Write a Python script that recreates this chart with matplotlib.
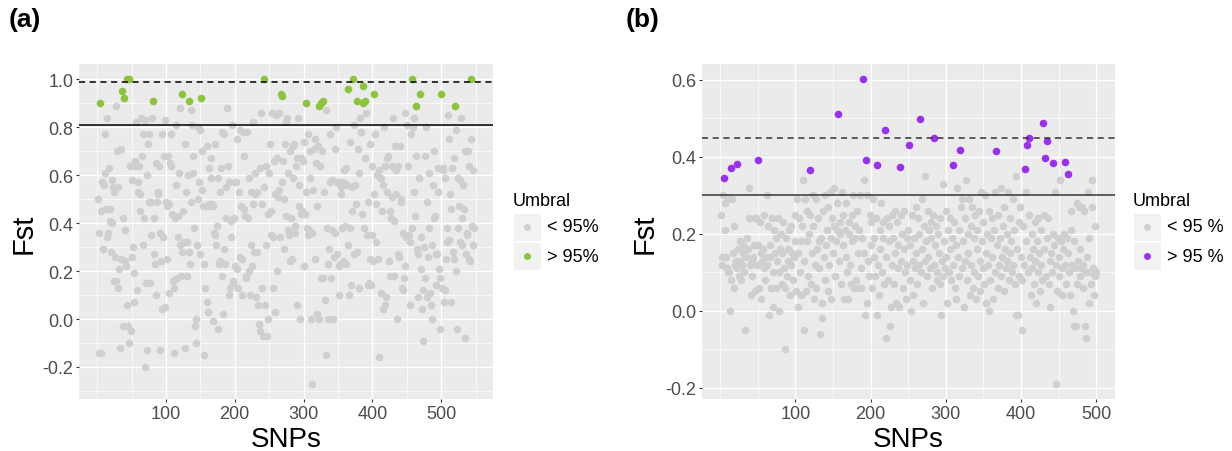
import numpy as np
import matplotlib
matplotlib.use("Agg")
import matplotlib.pyplot as plt
from matplotlib.patches import Rectangle
from matplotlib.lines import Line2D

plt.rcParams['font.family'] = ['Liberation Sans', 'DejaVu Sans']

# Fst per SNP, panel (a): SNP 1..548
fst_a = [
    0.50, 0.36, -0.14, 0.90, -0.14, 0.45, 0.57, 0.29, 0.29, 0.56, 0.61, 0.77, 0.46, 0.84, 0.34, 0.36, 0.63, 0.41, 0.46, 0.28,
    0.58, 0.40, 0.55, 0.16, 0.53, 0.26, 0.89, 0.16, 0.70, 0.13, 0.55, 0.21, -0.12, 0.25, 0.71, 0.95, -0.03, 0.42, 0.92, 0.37,
    0.24, 0.22, 1.00, 0.06, -0.03, -0.10, 1.00, 0.64, -0.05, 0.26, 0.58, 0.30, 0.07, 0.19, 0.66, 0.64, 0.82, 0.12, 0.53, 0.57,
    0.64, 0.45, 0.52, 0.84, 0.68, 0.31, 0.77, 0.42, 0.83, -0.20, 0.15, -0.13, 0.60, 0.73, 0.77, 0.49, 0.15, 0.49, 0.35, 0.84,
    0.91, 0.42, 0.27, 0.23, 0.10, 0.65, 0.49, 0.53, 0.52, 0.64, 0.36, -0.13, 0.24, 0.04, 0.77, 0.34, 0.68, 0.83, 0.05, 0.49,
    0.25, 0.47, 0.68, 0.11, 0.48, 0.65, 0.77, 0.64, 0.44, 0.16, 0.13, -0.14, 0.42, 0.81, 0.56, 0.17, 0.34, 0.43, 0.61, 0.31,
    0.88, 0.18, 0.28, 0.94, 0.45, 0.32, -0.12, 0.73, 0.53, 0.18, 0.32, 0.60, 0.28, 0.91, 0.23, 0.87, 0.49, 0.81, 0.61, 0.68,
    0.38, -0.03, 0.00, -0.10, 0.31, 0.80, 0.50, 0.57, 0.27, 0.79, 0.92, 0.54, 0.70, 0.47, -0.15, 0.23, 0.13, 0.47, 0.72, 0.07,
    0.03, 0.63, 0.48, 0.47, 0.67, 0.59, 0.48, -0.01, 0.47, 0.36, 0.73, 0.35, 0.31, 0.39, -0.04, 0.59, 0.23, 0.53, 0.24, 0.63,
    0.78, 0.18, 0.02, 0.77, 0.29, 0.23, 0.42, 0.55, 0.88, 0.64, 0.57, 0.10, 0.13, 0.41, 0.34, 0.81, 0.16, 0.15, 0.42, 0.57,
    0.22, 0.57, 0.75, 0.21, 0.13, 0.53, 0.26, 0.79, 0.47, 0.25, 0.10, 0.78, 0.46, 0.68, 0.43, 0.17, 0.18, 0.78, 0.42, 0.59,
    0.20, 0.10, 0.31, 0.53, 0.22, 0.82, 0.48, 0.28, 0.61, 0.52, 0.09, 0.28, 0.53, 0.06, -0.02, -0.05, 0.63, 0.86, 0.48, 0.13,
    -0.07, 1.00, 0.55, 0.06, 0.31, 0.64, -0.07, 0.44, 0.00, 0.61, 0.73, 0.45, 0.35, 0.86, 0.34, 0.13, 0.66, 0.52, 0.03, 0.85,
    0.67, 0.20, 0.51, 0.86, 0.54, 0.34, 0.94, 0.57, 0.93, 0.66, 0.29, 0.50, 0.73, 0.82, 0.43, 0.84, 0.37, 0.61, 0.35, 0.70,
    0.24, 0.42, 0.25, 0.59, 0.72, 0.73, 0.39, 0.36, 0.64, 0.06, 0.67, 0.84, 0.47, 0.56, 0.00, 0.67, 0.44, 0.45, 0.66, 0.22,
    0.74, 0.44, 0.53, 0.90, 0.38, 0.35, 0.77, 0.37, 0.59, 0.70, 0.00, -0.27, 0.36, 0.54, 0.71, 0.25, 0.75, 0.65, 0.02, 0.47,
    0.72, 0.00, 0.89, 0.64, 0.17, 0.90, 0.70, 0.17, 0.91, 0.53, 0.08, -0.15, 0.87, 0.38, 0.23, 0.00, 0.29, 0.77, 0.57, 0.17,
    0.58, 0.37, 0.00, 0.26, 0.71, 0.36, 0.80, 0.57, 0.27, 0.57, 0.22, 0.10, 0.23, 0.52, 0.55, 0.38, 0.57, 0.24, 0.62, 0.39,
    0.23, 0.63, 0.56, 0.96, 0.31, 0.10, 0.38, 0.74, 0.14, 0.45, 0.55, 1.00, 0.27, 0.81, 0.56, 0.48, 0.28, 0.91, 0.71, 0.61,
    0.13, 0.84, 0.78, 0.78, 0.44, 0.90, 0.97, 0.38, 0.91, 0.67, 0.86, 0.35, 0.14, 0.49, 0.15, 0.73, 0.25, 0.14, 0.35, 0.64,
    0.24, 0.52, 0.94, 0.77, 0.48, 0.32, 0.60, 0.25, 0.62, -0.16, 0.59, 0.59, 0.11, 0.45, 0.04, 0.56, 0.80, 0.06, 0.64, 0.09,
    0.67, 0.53, 0.68, 0.24, 0.18, 0.45, 0.42, 0.64, 0.51, 0.84, 0.18, 0.41, 0.72, 0.52, 0.62, 0.00, 0.27, 0.64, 0.26, 0.72,
    0.50, 0.49, 0.13, 0.36, 0.12, 0.17, 0.22, 0.86, 0.34, 0.34, 0.81, 0.64, 0.35, 0.06, 0.32, 0.77, 1.00, 0.38, 0.80, 0.53,
    0.84, 0.43, 0.89, 0.68, 0.29, 0.09, 0.27, 0.59, 0.94, 0.21, 0.34, 0.04, 0.12, -0.09, 0.30, 0.68, 0.17, 0.80, 0.09, 0.49,
    0.26, 0.38, 0.61, 0.11, 0.06, 0.31, 0.00, 0.56, 0.42, 0.70, 0.43, 0.27, 0.14, 0.27, 0.63, 0.53, 0.21, 0.17, -0.04, 0.94,
    0.13, 0.62, 0.63, 0.07, 0.59, 0.12, 0.25, 0.38, 0.32, 0.85, 0.75, 0.33, 0.52, 0.07, 0.46, 0.63, 0.28, 0.67, 0.25, 0.89,
    0.20, 0.79, -0.04, 0.59, 0.38, 0.47, 0.32, 0.58, 0.84, 0.31, 0.42, 0.56, 0.46, -0.08, 0.70, 0.27, 0.35, 0.36, 0.70, 0.64,
    0.25, 0.24, 1.00, 0.75, 0.39, 0.31, 0.62, 0.38,
]
# SNPs above the 95 % threshold in (a)
outliers_a = [4, 36, 39, 43, 47, 81, 124, 134, 151, 242, 267, 269, 304, 323, 326, 329,
              364, 372, 378, 386, 387, 389, 403, 457, 463, 469, 500, 520, 543]

# Fst per SNP, panel (b): SNP 1..500
fst_b = [
    0.25, 0.14, 0.12, 0.30, 0.345, 0.21, 0.28, 0.14, 0.11, 0.29, 0.10, 0.10, 0.00, 0.08, 0.371, 0.29, 0.15, 0.22, 0.06, 0.12,
    0.13, 0.381, 0.11, 0.16, 0.09, 0.13, 0.18, 0.08, 0.12, 0.17, 0.15, 0.10, -0.05, 0.16, 0.14, 0.19, 0.16, 0.32, 0.24, 0.12,
    0.04, 0.13, 0.09, 0.14, 0.17, 0.24, 0.05, 0.24, 0.12, 0.17, 0.391, 0.06, 0.23, 0.15, 0.03, 0.13, 0.16, 0.11, 0.25, 0.08,
    0.14, 0.30, 0.12, 0.22, -0.01, 0.17, 0.14, 0.06, 0.24, 0.10, 0.01, 0.21, 0.15, 0.06, 0.19, 0.13, 0.24, 0.00, 0.10, 0.16,
    0.20, 0.07, 0.15, 0.23, 0.11, 0.06, -0.10, 0.19, 0.09, 0.16, 0.13, 0.21, 0.04, 0.12, 0.22, 0.15, 0.08, 0.14, 0.18, 0.25,
    0.05, 0.29, 0.15, 0.01, 0.24, 0.10, 0.18, 0.04, 0.22, 0.34, -0.05, 0.13, 0.29, 0.05, 0.18, 0.26, 0.09, 0.20, 0.367, 0.25,
    0.07, 0.15, 0.30, 0.22, 0.03, 0.12, 0.29, 0.06, 0.16, 0.24, 0.18, 0.11, -0.06, 0.19, 0.02, -0.02, 0.26, 0.14, 0.08, 0.30,
    0.17, 0.21, 0.05, 0.27, 0.12, 0.31, 0.19, 0.03, 0.24, 0.15, 0.32, 0.22, 0.09, 0.18, 0.28, 0.21, 0.511, 0.13, 0.23, 0.20,
    0.07, 0.31, 0.25, 0.17, 0.03, 0.21, 0.14, 0.28, 0.10, 0.03, 0.20, 0.23, 0.12, 0.07, 0.25, 0.18, 0.30, 0.06, 0.19, 0.22,
    0.08, 0.26, 0.15, 0.06, 0.21, 0.30, 0.11, 0.06, 0.19, 0.602, 0.34, 0.15, -0.01, 0.393, 0.02, 0.30, 0.13, 0.09, 0.25, 0.17,
    0.23, 0.06, 0.29, 0.14, 0.19, 0.09, 0.24, -0.01, 0.378, 0.12, 0.04, 0.21, 0.16, 0.28, 0.10, 0.23, 0.19, 0.07, 0.471, -0.07,
    0.14, 0.24, 0.08, 0.18, 0.22, -0.04, 0.01, 0.12, 0.25, 0.19, 0.07, 0.15, 0.26, 0.02, 0.23, 0.11, 0.17, 0.01, 0.373, 0.25,
    0.13, 0.20, 0.06, 0.16, 0.26, 0.10, 0.03, 0.19, 0.12, 0.21, 0.431, 0.08, 0.17, 0.00, 0.25, 0.13, 0.04, 0.19, 0.11, 0.27,
    0.15, 0.07, 0.24, 0.12, 0.20, 0.498, 0.10, 0.29, 0.16, 0.02, 0.22, 0.13, 0.35, 0.18, 0.09, 0.26, 0.14, 0.21, 0.11, 0.23,
    0.19, 0.06, 0.25, 0.12, 0.448, 0.17, 0.22, 0.10, 0.08, 0.20, 0.15, 0.07, 0.24, -0.01, 0.13, 0.33, 0.09, 0.18, 0.11, 0.26,
    0.14, 0.02, 0.21, 0.10, 0.24, 0.16, 0.08, 0.19, 0.378, 0.12, 0.23, 0.06, 0.17, 0.03, 0.32, 0.14, 0.21, 0.09, 0.417, 0.27,
    0.11, 0.29, 0.18, 0.01, 0.24, 0.13, 0.34, 0.08, 0.20, 0.15, 0.29, 0.04, 0.22, 0.12, 0.27, 0.06, 0.19, 0.10, 0.25, 0.03,
    0.16, 0.21, 0.09, 0.26, 0.13, 0.05, 0.31, 0.18, 0.11, 0.23, 0.07, 0.30, 0.15, 0.02, 0.20, 0.12, 0.00, 0.26, 0.08, 0.19,
    0.14, 0.24, 0.03, 0.21, 0.10, 0.31, 0.416, 0.17, 0.06, 0.25, 0.12, 0.19, 0.09, 0.32, 0.14, 0.22, 0.05, 0.27, 0.16, 0.11,
    0.20, 0.13, 0.31, 0.08, 0.24, 0.15, 0.18, 0.10, 0.29, 0.12, 0.21, 0.07, 0.35, -0.01, 0.16, -0.01, 0.23, 0.09, 0.27, 0.14,
    0.08, -0.05, 0.22, 0.12, 0.368, 0.31, 0.18, 0.431, 0.10, 0.448, 0.25, 0.14, 0.04, 0.20, 0.11, 0.16, 0.07, 0.23, 0.13, 0.02,
    0.18, 0.10, 0.24, 0.15, 0.05, 0.21, 0.12, 0.08, 0.487, 0.16, 0.25, 0.396, 0.09, 0.19, 0.441, 0.24, 0.07, 0.13, 0.01, 0.15,
    0.10, 0.384, 0.20, 0.17, 0.31, 0.12, -0.19, 0.05, 0.19, 0.14, 0.09, 0.34, 0.18, 0.04, 0.11, 0.16, 0.20, 0.388, 0.12, 0.07,
    0.19, 0.15, 0.355, 0.10, 0.04, 0.21, 0.26, 0.12, 0.00, -0.04, 0.18, 0.11, -0.04, 0.28, 0.07, 0.13, 0.27, 0.09, 0.16, 0.11,
    0.27, 0.06, 0.12, 0.26, -0.04, 0.10, -0.07, 0.14, 0.31, 0.02, 0.19, 0.10, 0.07, 0.27, 0.34, 0.11, 0.04, 0.09, 0.22, 0.10,
]
outliers_b = [5, 15, 22, 51, 119, 157, 190, 194, 209, 219, 239, 251, 266, 285, 309, 319,
              367, 405, 408, 410, 429, 432, 435, 442, 458, 463]

# threshold lines (solid, dashed)
thr_a = (0.81, 0.99)
thr_b = (0.30, 0.45)

legend_labels_a = ["< 95%", "> 95%"]
legend_labels_b = ["< 95 %", "> 95 %"]

GREY = "#CFCFCF"
GREEN = "#8CC43C"
PURPLE = "#9B30F0"
W, H = 1232, 452

fig = plt.figure(figsize=(W / 100, H / 100), dpi=100)


def px_box(x0, x1, y0, y1):
    return [x0 / W, 1 - y1 / H, (x1 - x0) / W, (y1 - y0) / H]


def panel(box, fst, outliers, color, line_col, thr, xlim, ylim, yticks, yminor, xminor):
    ax = fig.add_axes(box)
    ax.set_facecolor("#EBEBEB")
    snp = np.arange(1, len(fst) + 1)
    fst = np.array(fst)
    is_out = np.isin(snp, outliers)
    ax.scatter(snp[~is_out], fst[~is_out], s=30, color=GREY, lw=0, zorder=3)
    ax.scatter(snp[is_out], fst[is_out], s=30, color=color, lw=0, zorder=4)
    ax.axhline(thr[0], color=line_col, lw=1.1, zorder=5)
    ax.axhline(thr[1], color=line_col, lw=1.1, ls=(0, (4, 3)), zorder=5)
    ax.set_xlim(*xlim)
    ax.set_ylim(*ylim)
    ax.set_xticks([100, 200, 300, 400, 500])
    ax.set_yticks(yticks)
    ax.set_yticklabels([f"{t:.1f}" for t in yticks])
    ax.set_xticks(xminor, minor=True)
    ax.set_yticks(yminor, minor=True)
    ax.grid(True, which="major", color="white", lw=1.0, zorder=0)
    ax.grid(True, which="minor", color="white", lw=0.5, zorder=0)
    ax.set_axisbelow(True)
    for s in ax.spines.values():
        s.set_visible(False)
    ax.tick_params(which="major", length=2.5, width=0.8, color="#333333",
                   labelsize=13, labelcolor="#4D4D4D", pad=1.5)
    ax.tick_params(which="minor", length=0)
    return ax


ax_a = panel(px_box(79, 493, 65, 400), fst_a, outliers_a, GREEN, "black", thr_a,
             (-26.35, 575.35), (-0.3335, 1.0635),
             [-0.2, 0.0, 0.2, 0.4, 0.6, 0.8, 1.0],
             [-0.3, -0.1, 0.1, 0.3, 0.5, 0.7, 0.9],
             [0, 50, 150, 250, 350, 450, 550])
ax_b = panel(px_box(702, 1115, 65, 400), fst_b, outliers_b, PURPLE, "#333333", thr_b,
             (-23.95, 524.95), (-0.2296, 0.6416),
             [-0.2, 0.0, 0.2, 0.4, 0.6],
             [-0.1, 0.1, 0.3, 0.5],
             [0, 50, 150, 250, 350, 450])

# axis titles and panel letters
for cx, lx, tag, tx in [(286, 24, "(a)", 9), (908, 645, "(b)", 626)]:
    fig.text(cx / W, 1 - 440 / H, "SNPs", ha="center", va="center", fontsize=20)
    fig.text(lx / W, 1 - 234 / H, "Fst", ha="center", va="center", fontsize=21,
             rotation=90)
    fig.text(tx / W, 1 - 20 / H, tag, ha="left", va="center", fontsize=19,
             fontweight="bold")

# legends drawn as ggplot-style keys
for kx, labels, col in [(513, legend_labels_a, GREEN), (1133, legend_labels_b, PURPLE)]:
    fig.text(kx / W, 1 - 201 / H, "Umbral", ha="left", va="center", fontsize=13)
    for i, (lab, c) in enumerate(zip(labels, [GREY, col])):
        y0 = 214 + i * 29
        fig.add_artist(Rectangle((kx / W, 1 - (y0 + 28) / H), 28 / W, 28 / H,
                                 transform=fig.transFigure, fc="#F2F2F2", ec="white",
                                 lw=0.8))
        fig.add_artist(Line2D([(kx + 14) / W], [1 - (y0 + 14) / H], marker="o",
                              ms=5, color=c, mew=0, transform=fig.transFigure))
        fig.text((kx + 34) / W, 1 - (y0 + 14) / H, lab, ha="left", va="center",
                 fontsize=13)

fig.savefig("out.png", dpi=100)
